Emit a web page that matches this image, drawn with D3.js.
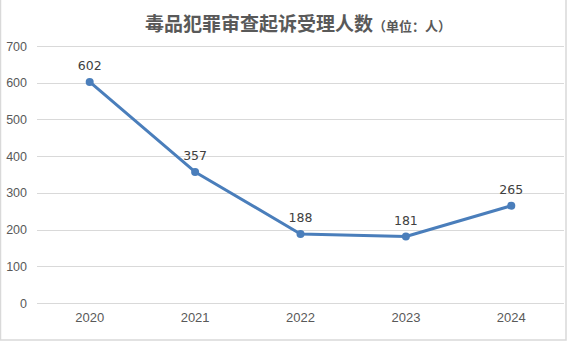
<!DOCTYPE html>
<html>
<head>
<meta charset="utf-8">
<script src="https://cdn.jsdelivr.net/npm/d3@7"></script>
<style>
  body { margin: 0; background: #fff; }
  svg { display: block; font-family: "DejaVu Sans", sans-serif; }
</style>
</head>
<body>
<div id="chart"></div>
<script>
// chart data
const years = ["2020", "2021", "2022", "2023", "2024"];
const cases = [602, 357, 188, 181, 265];
const yTicks = [0, 100, 200, 300, 400, 500, 600, 700];

const W = 568, H = 342;
const margin = {top: 46, right: 4, bottom: 39, left: 37};
const width = W - margin.left - margin.right;
const height = H - margin.top - margin.bottom;

const svg = d3.select("#chart").append("svg")
    .attr("width", W)
    .attr("height", H);

// outer frame
svg.append("rect")
    .attr("x", 0.5).attr("y", -2)
    .attr("width", 565.5).attr("height", 342)
    .attr("fill", "none")
    .attr("stroke", "#d9d9d9")
    .attr("stroke-width", 1.5);

// title
const title = svg.append("text")
    .attr("x", 298)
    .attr("y", 31)
    .attr("text-anchor", "middle")
    .attr("fill", "#595959")
    .style("font-family", "'Noto Sans CJK SC', sans-serif");
title.append("tspan")
    .style("font-size", "19px")
    .style("font-weight", "bold")
    .text("毒品犯罪审查起诉受理人数");
title.append("tspan")
    .style("font-size", "13px")
    .style("font-weight", "bold")
    .text("（单位：人）");

const g = svg.append("g")
    .attr("transform", `translate(${margin.left},${margin.top})`);

const x = d3.scaleBand().domain(years).range([0, width]);
const y = d3.scaleLinear().domain([0, 700]).range([height, 0]);

// gridlines
g.selectAll(".grid")
    .data(yTicks)
    .join("line")
    .attr("class", "grid")
    .attr("x1", 0).attr("x2", width)
    .attr("y1", d => Math.round(y(d)) + 0.5)
    .attr("y2", d => Math.round(y(d)) + 0.5)
    .attr("stroke", "#d9d9d9")
    .attr("stroke-width", 1);

// y axis labels
const yAxis = d3.axisLeft(y).tickValues(yTicks).tickSize(0).tickPadding(10);
g.append("g").call(yAxis)
    .call(a => a.select(".domain").remove())
    .selectAll("text")
    .attr("fill", "#595959")
    .style("font-size", "12.5px");

// x axis labels
const xAxis = d3.axisBottom(x).tickSize(0).tickPadding(10);
g.append("g")
    .attr("transform", `translate(0,${height})`)
    .call(xAxis)
    .call(a => a.select(".domain").remove())
    .selectAll("text")
    .attr("fill", "#595959")
    .style("font-size", "13px");

const pts = years.map((yr, i) => ({year: yr, value: cases[i]}));
const cx = d => x(d.year) + x.bandwidth() / 2;

// line
const line = d3.line()
    .x(cx)
    .y(d => y(d.value));

g.append("path")
    .datum(pts)
    .attr("fill", "none")
    .attr("stroke", "#4a7ebb")
    .attr("stroke-width", 3)
    .attr("stroke-linejoin", "round")
    .attr("d", line);

// markers
g.selectAll(".dot")
    .data(pts)
    .join("circle")
    .attr("class", "dot")
    .attr("cx", cx)
    .attr("cy", d => y(d.value))
    .attr("r", 4)
    .attr("fill", "#4a7ebb");

// value labels
g.selectAll(".lbl")
    .data(pts)
    .join("text")
    .attr("class", "lbl")
    .attr("x", cx)
    .attr("y", d => y(d.value) - 12)
    .attr("text-anchor", "middle")
    .attr("fill", "#404040")
    .style("font-size", "12.5px")
    .text(d => d.value);
</script>
</body>
</html>
